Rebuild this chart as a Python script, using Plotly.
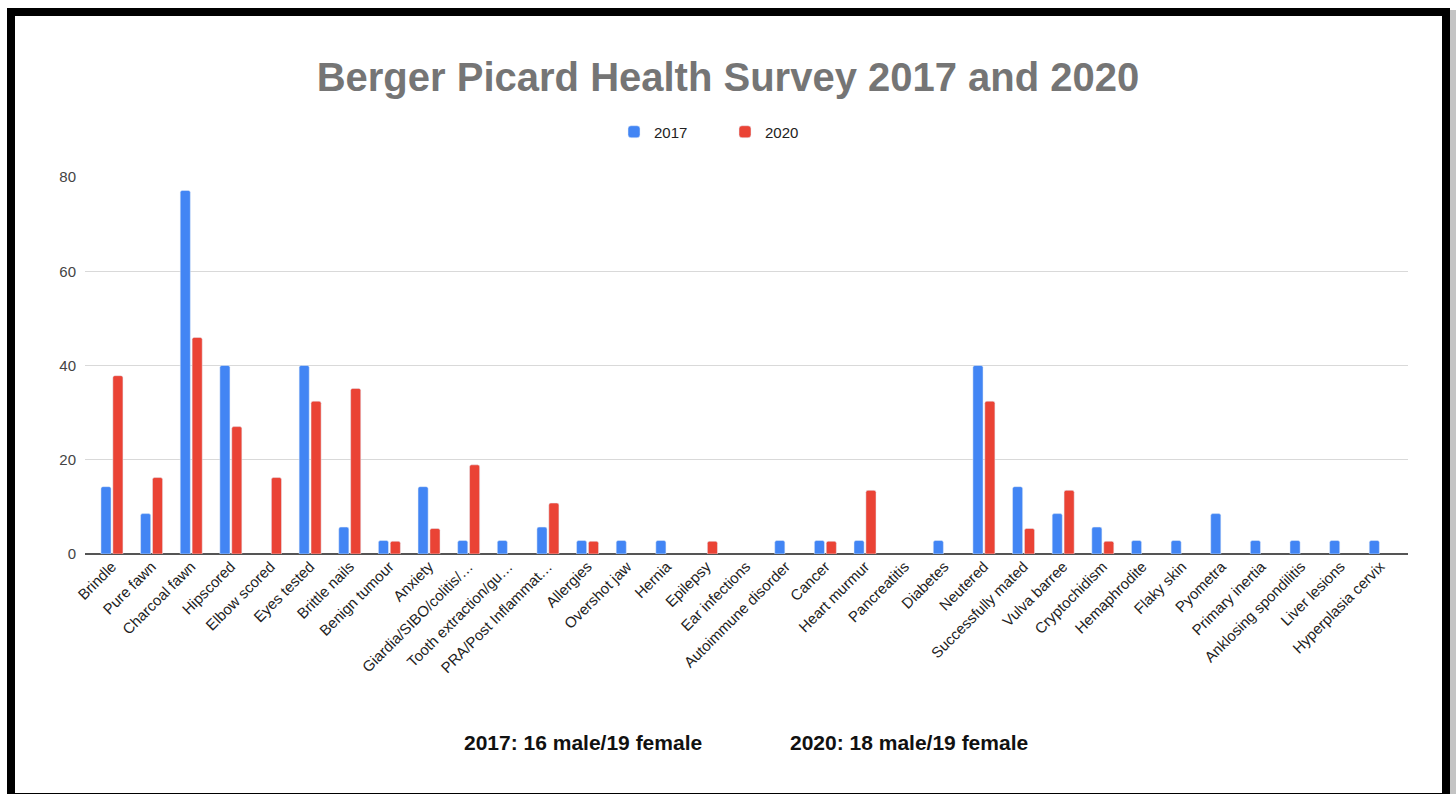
import plotly.graph_objects as go

categories = [
    "Brindle", "Pure fawn", "Charcoal fawn", "Hipscored", "Elbow scored", "Eyes tested",
    "Brittle nails", "Benign tumour", "Anxiety", "Giardia/SIBO/colitis/…",
    "Tooth extraction/gu…", "PRA/Post Inflammat…", "Allergies", "Overshot jaw", "Hernia",
    "Epilepsy", "Ear infections", "Autoimmune disorder", "Cancer", "Heart murmur",
    "Pancreatitis", "Diabetes", "Neutered", "Successfully mated", "Vulva barree",
    "Cryptochidism", "Hemaphrodite", "Flaky skin", "Pyometra", "Primary inertia",
    "Anklosing spondilitis", "Liver lesions", "Hyperplasia cervix",
]
values_2017 = [14.29, 8.57, 77.14, 40.0, 0, 40.0, 5.71, 2.86, 14.29, 2.86,
               2.86, 5.71, 2.86, 2.86, 2.86, 0, 0, 2.86, 2.86, 2.86,
               0, 2.86, 40.0, 14.29, 8.57, 5.71, 2.86, 2.86, 8.57, 2.86,
               2.86, 2.86, 2.86]
values_2020 = [37.84, 16.22, 45.95, 27.03, 16.22, 32.43, 35.14, 2.70, 5.41, 18.92,
               0, 10.81, 2.70, 0, 0, 2.70, 0, 0, 2.70, 13.51,
               0, 0, 32.43, 5.41, 13.51, 2.70, 0, 0, 0, 0,
               0, 0, 0]
y_ticks = [0, 20, 40, 60, 80]
title_text = "Berger Picard Health Survey 2017 and 2020"
note_2017 = "2017: 16 male/19 female"
note_2020 = "2020: 18 male/19 female"

W, H = 1456, 794
L, R, T, B = 85, 48, 177, 240
pw, ph = W - L - R, H - T - B

def px(x):
    return (x - L) / pw

def py(y):
    return (H - B - y) / ph

def nz(vals):
    return [v if v else None for v in vals]

FONT = "Arial, Liberation Sans, sans-serif"

fig = go.Figure()
fig.add_trace(go.Bar(name="2017", x=categories, y=nz(values_2017), marker_color="#4285F4"))
fig.add_trace(go.Bar(name="2020", x=categories, y=nz(values_2020), marker_color="#EA4335"))

fig.update_layout(
    width=W, height=H,
    margin=dict(l=L, r=R, t=T, b=B),
    paper_bgcolor="white", plot_bgcolor="white",
    font=dict(family=FONT, color="#222222"),
    barmode="group", bargap=0.4, bargroupgap=0.15, barcornerradius=2,
    title=dict(text=title_text, x=0.5, xref="container", xanchor="center",
               y=1 - 77 / H, yref="container", yanchor="middle",
               font=dict(family=FONT, size=40, color="#757575", weight="bold")),
    legend=dict(orientation="h", x=px(614), xanchor="left", y=py(132), yanchor="middle",
                entrywidth=66, entrywidthmode="pixels", itemwidth=30,
                font=dict(size=15, color="#222222"), bgcolor="rgba(0,0,0,0)"),
    xaxis=dict(range=[-0.68, 32.7], tickangle=-45, tickfont=dict(size=15, color="#222222"),
               showgrid=False, showline=False, ticks="", automargin=False),
    yaxis=dict(range=[0, 80], tickvals=y_ticks, tickfont=dict(size=15, color="#444444"),
               gridcolor="#d9d9d9", gridwidth=1, zeroline=True, zerolinecolor="#555555",
               zerolinewidth=1.5, ticks="", automargin=False, showline=False,
               ticklabelstandoff=8),
    annotations=[
        dict(text="<b>" + note_2017 + "</b>", x=px(583), y=py(742), xref="paper", yref="paper",
             showarrow=False, xanchor="center", yanchor="middle",
             font=dict(family=FONT, size=21, color="#111111")),
        dict(text="<b>" + note_2020 + "</b>", x=px(909), y=py(742), xref="paper", yref="paper",
             showarrow=False, xanchor="center", yanchor="middle",
             font=dict(family=FONT, size=21, color="#111111")),
    ],
    shapes=[
        dict(type="rect", xref="paper", yref="paper", x0=px(1450), x1=px(1456), y0=py(10), y1=py(794),
             fillcolor="#c4c4c4", line=dict(width=0), layer="below"),
        dict(type="rect", xref="paper", yref="paper", x0=px(11), x1=px(1446), y0=py(12), y1=py(797),
             line=dict(color="black", width=8), fillcolor="rgba(0,0,0,0)"),
    ],
)

fig.write_html("out.html", config={"displayModeBar": False},
               post_script="document.body.style.margin='0';document.body.style.overflow='hidden';")
